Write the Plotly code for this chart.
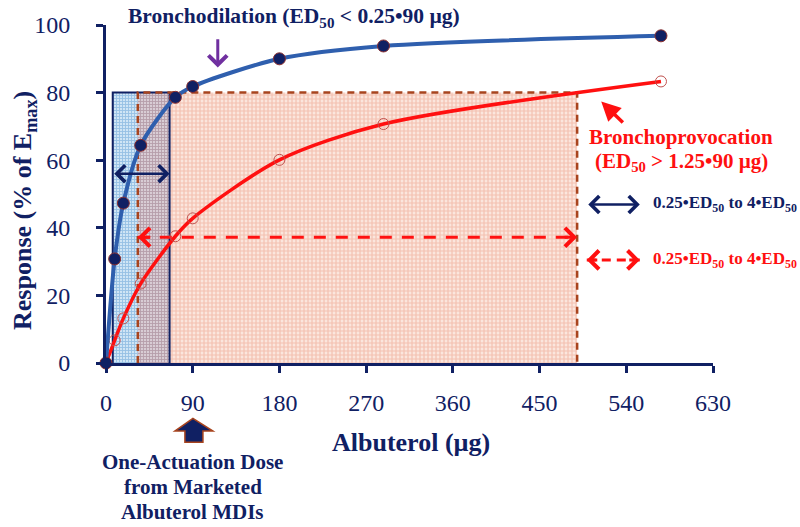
import plotly.graph_objects as go

# Albuterol dose-response data (% of Emax)
dose = [0, 9, 18, 36, 72, 90, 180, 288, 576]
bronchodilation = [0, 30.8, 47.3, 64.4, 78.6, 81.8, 90.0, 93.8, 96.8]
bronchoprovocation = [0, 6.7, 13.2, 23.5, 37.5, 42.8, 60.1, 70.7, 83.3]

# 0.25*ED50 to 4*ED50 windows
dilation_window = [7, 66]
provocation_window = [33, 489]
window_top = 80
dilation_arrow_y = 56
provocation_arrow_y = 37.2

x_ticks = [0, 90, 180, 270, 360, 450, 540, 630]
y_ticks = [0, 20, 40, 60, 80, 100]

NAVY = "#102063"
BLUE = "#2F5FAE"
RED = "#FF1010"
BROWN = "#A8441E"
SERIF = "Liberation Serif"

fig = go.Figure()


def rect(x0, x1, y0, y1):
    return [x0, x1, x1, x0, x0], [y0, y0, y1, y1, y0]


# hatched windows
bx, by = rect(dilation_window[0], dilation_window[1], 0, window_top)
fig.add_trace(go.Scatter(x=bx, y=by, fill="toself", mode="none",
                         fillpattern=dict(shape="+", size=3, solidity=0.5,
                                          fgcolor="#5A9CD4", bgcolor="#CFE5F5"),
                         hoverinfo="skip", showlegend=False))
rx, ry = rect(provocation_window[0], provocation_window[1], 0, window_top)
fig.add_trace(go.Scatter(x=rx, y=ry, fill="toself", mode="none",
                         fillpattern=dict(shape="+", size=4, solidity=0.5,
                                          fgcolor="#EB9A82", bgcolor="#FBE6DD"),
                         hoverinfo="skip", showlegend=False))
ox, oy = rect(max(dilation_window[0], provocation_window[0]),
              min(dilation_window[1], provocation_window[1]), 0, window_top)
fig.add_trace(go.Scatter(x=ox, y=oy, fill="toself", mode="none",
                         fillpattern=dict(shape="+", size=3, solidity=0.5,
                                          fgcolor="#947080", bgcolor="#D8CCD4"),
                         hoverinfo="skip", showlegend=False))

# window borders
fig.add_trace(go.Scatter(x=[dilation_window[0], dilation_window[0], dilation_window[1], dilation_window[1]],
                         y=[0, window_top, window_top, 0], mode="lines",
                         line=dict(color=NAVY, width=2), hoverinfo="skip", showlegend=False))
fig.add_trace(go.Scatter(x=[provocation_window[0], provocation_window[0], provocation_window[1], provocation_window[1]],
                         y=[0, window_top, window_top, 0], mode="lines",
                         line=dict(color=BROWN, width=2.5, dash="7px,5px"), hoverinfo="skip", showlegend=False))

# dashed red range line inside plot
fig.add_trace(go.Scatter(x=provocation_window, y=[provocation_arrow_y] * 2, mode="lines",
                         line=dict(color=RED, width=3, dash="12px,10px"), hoverinfo="skip", showlegend=False))

# dose-response curves
fig.add_trace(go.Scatter(x=dose, y=bronchoprovocation, mode="lines+markers",
                         line=dict(color=RED, width=3.5, shape="spline", smoothing=0.8),
                         marker=dict(symbol="circle-open", size=11, color="#C0504D", line=dict(width=1)),
                         cliponaxis=False, showlegend=False))
fig.add_trace(go.Scatter(x=dose, y=bronchodilation, mode="lines+markers",
                         line=dict(color=BLUE, width=4, shape="spline", smoothing=0.8),
                         marker=dict(size=12, color=NAVY, line=dict(color="#8B3030", width=1)),
                         cliponaxis=False, showlegend=False))

annotations = []

# navy double arrow in the plot
annotations.append(dict(x=dilation_window[1], y=dilation_arrow_y, ax=dilation_window[0], ay=dilation_arrow_y,
                        xref="x", yref="y", axref="x", ayref="y", text="", showarrow=True,
                        arrowhead=4, startarrowhead=4, arrowside="end+start", arrowsize=1.3,
                        startarrowsize=1.3, arrowwidth=2.5, arrowcolor=NAVY))
# red dashed arrow heads
for tip, off in [(provocation_window[0], 14), (provocation_window[1], -14)]:
    annotations.append(dict(x=tip, y=provocation_arrow_y, ax=off, ay=0, xref="x", yref="y",
                            text="", showarrow=True, arrowhead=4, arrowsize=1.2,
                            arrowwidth=3, arrowcolor=RED))

# legend-style arrows on the right
leg_x = [499, 554]
leg_y = [46.9, 30.5]
annotations.append(dict(x=leg_x[1], y=leg_y[0], ax=leg_x[0], ay=leg_y[0], xref="x", yref="y",
                        axref="x", ayref="y", text="", showarrow=True, arrowhead=4, startarrowhead=4,
                        arrowside="end+start", arrowsize=1.3, startarrowsize=1.3, arrowwidth=2.5,
                        arrowcolor=NAVY))
fig.add_trace(go.Scatter(x=leg_x, y=[leg_y[1]] * 2, mode="lines", cliponaxis=False,
                         line=dict(color=RED, width=3, dash="9px,6px"), hoverinfo="skip", showlegend=False))
for tip, off in [(leg_x[0], 12), (leg_x[1], -12)]:
    annotations.append(dict(x=tip, y=leg_y[1], ax=off, ay=0, xref="x", yref="y",
                            text="", showarrow=True, arrowhead=4, arrowsize=1.2,
                            arrowwidth=3, arrowcolor=RED))
legend_label = "0.25•ED<sub>50</sub> to 4•ED<sub>50</sub>"
annotations.append(dict(x=566, y=leg_y[0], xref="x", yref="y", text=legend_label, showarrow=False,
                        xanchor="left", yanchor="middle",
                        font=dict(family=SERIF, size=17, color=NAVY, weight="bold")))
annotations.append(dict(x=566, y=leg_y[1], xref="x", yref="y", text=legend_label, showarrow=False,
                        xanchor="left", yanchor="middle",
                        font=dict(family=SERIF, size=17, color=RED, weight="bold")))

# curve labels
annotations.append(dict(x=195, y=1.023, xref="x", yref="paper", xanchor="center", yanchor="middle",
                        text="Bronchodilation (ED<sub>50</sub> < 0.25•90 µg)", showarrow=False,
                        font=dict(family=SERIF, size=21.5, color=NAVY, weight="bold")))
annotations.append(dict(x=116, y=87.4, ax=116, ay=96.2, xref="x", yref="y", axref="x", ayref="y",
                        text="", showarrow=True, arrowhead=4, arrowsize=1.2, arrowwidth=3,
                        arrowcolor="#7030A0"))
annotations.append(dict(x=597, y=66.9, xref="x", yref="y", text="Bronchoprovocation", showarrow=False,
                        xanchor="center", yanchor="middle",
                        font=dict(family=SERIF, size=21, color=RED, weight="bold")))
annotations.append(dict(x=597, y=59.5, xref="x", yref="y", text="(ED<sub>50</sub> > 1.25•90 µg)",
                        showarrow=False, xanchor="center", yanchor="middle",
                        font=dict(family=SERIF, size=21, color=RED, weight="bold")))
annotations.append(dict(x=514, y=77.4, ax=538, ay=70.7, xref="x", yref="y", axref="x", ayref="y",
                        text="", showarrow=True, arrowhead=2, arrowsize=1.1, arrowwidth=3.5,
                        arrowcolor=RED))

# axis titles
annotations.append(dict(x=-0.135, y=0.45, xref="paper", yref="paper", textangle=-90,
                        xanchor="center", yanchor="middle",
                        text="Response (% of E<sub>max</sub>)", showarrow=False,
                        font=dict(family=SERIF, size=26, color=NAVY, weight="bold")))
annotations.append(dict(x=0.502, y=-0.235, xref="paper", yref="paper", text="Albuterol (µg)",
                        xanchor="center", yanchor="middle",
                        showarrow=False, font=dict(family=SERIF, size=26, color=NAVY, weight="bold")))

# marketed MDI dose note
note_lines = ["One-Actuation Dose", "from Marketed", "Albuterol MDIs"]
for i, line in enumerate(note_lines):
    annotations.append(dict(x=90, y=-0.293 - i * 0.0745, xref="x", yref="paper", text=line,
                            xanchor="center", yanchor="middle", showarrow=False,
                            font=dict(family=SERIF, size=21, color=NAVY, weight="bold")))

block_arrow = ("M 90.2,-0.164 L 111,-0.2015 L 100.6,-0.2015 L 100.6,-0.2346 "
               "L 81.9,-0.2346 L 81.9,-0.2015 L 71.5,-0.2015 Z")

fig.update_layout(
    width=800, height=527,
    margin=dict(l=106, r=87, t=22, b=164),
    plot_bgcolor="white", paper_bgcolor="white",
    annotations=annotations,
    shapes=[dict(type="path", path=block_arrow, xref="x", yref="paper",
                 fillcolor=NAVY, line=dict(color=BROWN, width=1.5))],
    xaxis=dict(range=[0, 630], tickvals=x_ticks, showgrid=False, zeroline=False,
               showline=True, linecolor=NAVY, linewidth=3, ticks="outside", ticklen=7,
               tickwidth=3, tickcolor=NAVY, ticklabelstandoff=9,
               tickfont=dict(family=SERIF, size=24, color=NAVY)),
    yaxis=dict(range=[0, 100], tickvals=y_ticks, showgrid=False, zeroline=False,
               showline=True, linecolor=NAVY, linewidth=3, ticks="outside", ticklen=7,
               tickwidth=3, tickcolor=NAVY, ticklabelstandoff=21,
               tickfont=dict(family=SERIF, size=24, color=NAVY)),
)

fig.write_html("out.html")
